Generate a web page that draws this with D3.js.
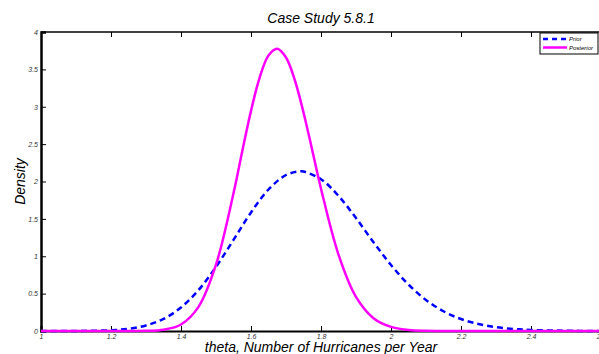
<!DOCTYPE html>
<html>
<head>
<meta charset="utf-8">
<script src="https://cdn.jsdelivr.net/npm/d3@7"></script>
<style>
html,body{margin:0;padding:0;background:#fff;}
svg{display:block;}
</style>
</head>
<body>
<div id="chart"></div>
<script>
// Data
const title = "Case Study 5.8.1";
const xLabel = "theta, Number of Hurricanes per Year";
const yLabel = "Density";
const seriesNames = ["Prior", "Posterior"];
const xTicks = [1, 1.2, 1.4, 1.6, 1.8, 2, 2.2, 2.4, 2.6];
const yTicks = [0, 0.5, 1, 1.5, 2, 2.5, 3, 3.5, 4];

const priorX = [1.0, 1.1, 1.2, 1.25, 1.3, 1.35, 1.4, 1.45, 1.5, 1.55, 1.6, 1.65, 1.7, 1.74, 1.75, 1.8, 1.85, 1.9, 1.95, 2.0, 2.05, 2.1, 2.15, 2.2, 2.25, 2.3, 2.35, 2.4, 2.5, 2.6];
const priorY = [0.0, 0.0008, 0.0104, 0.0297, 0.0741, 0.162, 0.315, 0.547, 0.858, 1.219, 1.586, 1.893, 2.087, 2.137, 2.134, 2.031, 1.808, 1.511, 1.188, 0.883, 0.621, 0.415, 0.264, 0.160, 0.093, 0.0515, 0.0275, 0.0141, 0.0033, 0.0007];

const postX = [1.0, 1.2, 1.25, 1.3, 1.35, 1.4, 1.45, 1.5, 1.55, 1.575, 1.6, 1.625, 1.65, 1.675, 1.7, 1.725, 1.75, 1.775, 1.8, 1.85, 1.9, 1.95, 2.0, 2.05, 2.1, 2.15, 2.2, 2.6];
const postY = [0.0, 0.0, 0.0002, 0.0024, 0.0172, 0.0875, 0.3235, 0.8875, 1.842, 2.405, 2.945, 3.394, 3.685, 3.776, 3.659, 3.358, 2.924, 2.419, 1.904, 1.022, 0.456, 0.171, 0.0545, 0.0148, 0.0035, 0.0007, 0.0001, 0.0];

const W = 599, H = 354;
const svg = d3.select("#chart").append("svg").attr("width", W).attr("height", H);

const mLeft = 41, mRight = 601, mTop = 32, mBottom = 331;
const x = d3.scaleLinear().domain([1, 2.6]).range([mLeft, mRight]);
const y = d3.scaleLinear().domain([0, 4]).range([mBottom, mTop]);

const tickFont = "italic 7px 'Liberation Sans', Arial, sans-serif";

// frame top
svg.append("line").attr("x1", mLeft).attr("x2", mRight).attr("y1", mTop).attr("y2", mTop)
  .attr("stroke", "#000").attr("stroke-width", 1.5);

// bottom axis
const xAxis = d3.axisBottom(x).tickValues(xTicks).tickSize(-5).tickPadding(2)
  .tickFormat(d => d3.format("")(+d.toFixed(1)));
const gx = svg.append("g").attr("transform", `translate(0,${mBottom})`).call(xAxis);
gx.select(".domain").attr("stroke-width", 2);
gx.selectAll(".tick line").attr("stroke-width", 1);
gx.selectAll(".tick text").style("font", tickFont).attr("fill", "#333").attr("dy", "0.9em");

// top ticks
const xTop = d3.axisTop(x).tickValues(xTicks).tickSize(-5).tickFormat("");
const gxt = svg.append("g").attr("transform", `translate(0,${mTop})`).call(xTop);
gxt.select(".domain").remove();

// left axis
const yAxis = d3.axisLeft(y).tickValues(yTicks).tickSize(-5).tickPadding(3)
  .tickFormat(d => d3.format("")(d));
const gy = svg.append("g").attr("transform", `translate(${mLeft},0)`).call(yAxis);
gy.select(".domain").attr("stroke-width", 2.5);
gy.selectAll(".tick text").style("font", tickFont).attr("fill", "#333");

// curves
const line = d3.line().x(d => x(d[0])).y(d => y(d[1])).curve(d3.curveCatmullRom.alpha(0.5));
const priorData = priorX.map((v, i) => [v, priorY[i]]);
const postData = postX.map((v, i) => [v, postY[i]]);

svg.append("path").datum(priorData).attr("d", line)
  .attr("fill", "none").attr("stroke", "#0000ff").attr("stroke-width", 2.5)
  .attr("stroke-dasharray", "6,4");
svg.append("path").datum(postData).attr("d", line)
  .attr("fill", "none").attr("stroke", "#ff00ff").attr("stroke-width", 2.5);

// title and labels
const labelFont = "italic 14px 'Liberation Sans', Arial, sans-serif";
svg.append("text").attr("x", (mLeft + mRight) / 2).attr("y", 23).attr("text-anchor", "middle")
  .style("font", labelFont).text(title);
svg.append("text").attr("x", (mLeft + mRight) / 2).attr("y", 352).attr("text-anchor", "middle")
  .style("font", labelFont).text(xLabel);
svg.append("text").attr("transform", `translate(25,${(mTop + mBottom) / 2}) rotate(-90)`)
  .attr("text-anchor", "middle").style("font", labelFont).text(yLabel);

// legend
const lg = svg.append("g").attr("transform", "translate(540,33)");
lg.append("rect").attr("x", 0).attr("y", 0).attr("width", 58).attr("height", 21)
  .attr("fill", "#fff").attr("stroke", "#000").attr("stroke-width", 1);
const colors = ["#0000ff", "#ff00ff"];
seriesNames.forEach((n, i) => {
  const yy = 6 + i * 8.5;
  lg.append("line").attr("x1", 3).attr("x2", 27).attr("y1", yy).attr("y2", yy)
    .attr("stroke", colors[i]).attr("stroke-width", 2.5)
    .attr("stroke-dasharray", i === 0 ? "5,4" : null);
  lg.append("text").attr("x", 29).attr("y", yy + 2.2)
    .style("font", "italic 6px 'Liberation Sans', Arial, sans-serif").text(n);
});
</script>
</body>
</html>
